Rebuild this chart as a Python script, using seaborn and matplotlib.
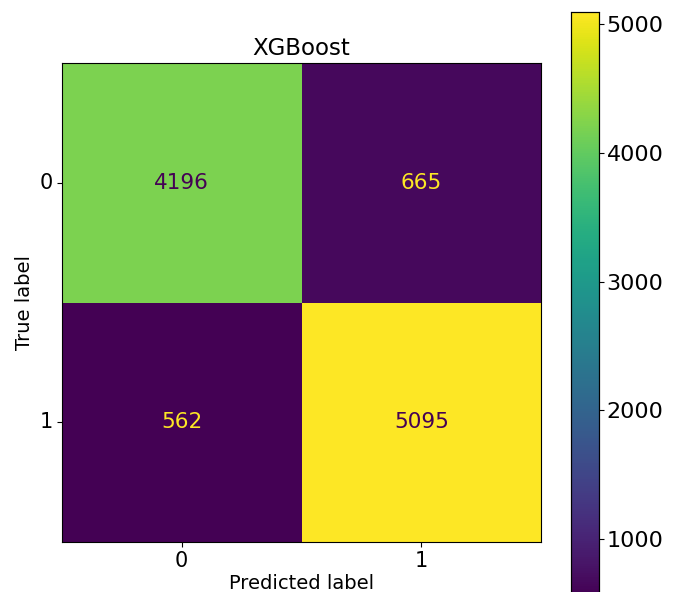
import numpy as np
import matplotlib
matplotlib.use("Agg")
import matplotlib.pyplot as plt
import seaborn as sns

title = "XGBoost"
class_labels = ["0", "1"]
matrix = [[4196, 665],
          [562, 5095]]
cbar_ticks = [1000, 2000, 3000, 4000, 5000]

cm = np.array(matrix)
W, H = 678, 592
fig = plt.figure(figsize=(W / 100, H / 100), dpi=100)
ax = fig.add_axes([62 / W, (H - 542) / H, 479 / W, 479 / H])
cax = fig.add_axes([571 / W, -3.6 / H, 28 / W, 583.6 / H])

cmap = plt.get_cmap("viridis")
sns.heatmap(cm, ax=ax, cbar_ax=cax, cmap=cmap, annot=False,
            vmin=cm.min(), vmax=cm.max(), square=False)

thresh = (cm.max() + cm.min()) / 2.0
for i in range(cm.shape[0]):
    for j in range(cm.shape[1]):
        col = cmap(0.0) if cm[i, j] >= thresh else cmap(1.0)
        ax.text(j + 0.5, i + 0.5, str(cm[i, j]), ha="center", va="center",
                color=col, fontsize=15.5)

ax.set_xticks([0.5, 1.5])
ax.set_xticklabels(class_labels, fontsize=15)
ax.set_yticks([0.5, 1.5])
ax.set_yticklabels(class_labels, fontsize=15, rotation=0)
ax.tick_params(length=3.5, width=0.8, pad=3)
for s in ax.spines.values():
    s.set_visible(True)
    s.set_linewidth(0.8)
ax.set_xlabel("Predicted label", fontsize=14, labelpad=2)
ax.set_ylabel("True label", fontsize=14)
ax.set_title(title, fontsize=16.5)

cax.set_yticks(cbar_ticks)
cax.tick_params(labelsize=16, length=3.5, width=0.8, pad=2)
for s in cax.spines.values():
    s.set_visible(True)
    s.set_linewidth(0.8)

fig.savefig("out.png", dpi=100)
